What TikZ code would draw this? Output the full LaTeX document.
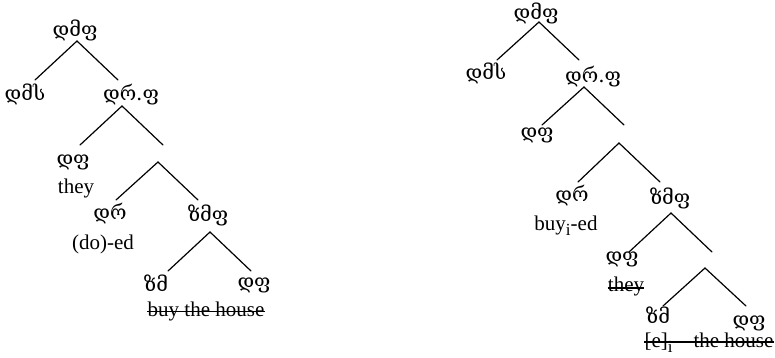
\documentclass[tikz,border=0pt]{standalone}
\usepackage{fontspec}
\setmainfont{Liberation Serif}
\newfontfamily\geo{DejaVu Serif}
\newcommand{\lowsub}[1]{\raisebox{-5pt}{\fontsize{17}{17}\selectfont #1}}
\begin{document}
\begin{tikzpicture}[x=1pt,y=-1pt,
  lab/.style={inner sep=0pt,anchor=center,font=\geo\fontsize{20}{24}\selectfont},
  word/.style={inner sep=0pt,anchor=base,font=\fontsize{21}{25}\selectfont},
  branch/.style={line width=1.2pt,line cap=round},
  strike/.style={line width=1.4pt}]
\useasboundingbox (0,0) rectangle (775,357);
% ---------- left tree ----------
\node[lab] (a0) at (75,30) {დმფ};
\node[lab] (a1) at (25,94) {დმს};
\node[lab] (a2) at (131,95) {დრ.ფ};
\node[lab] (a3) at (73,162) {დფ};
\node[word] (w1) at (76,193) {they};
\node[lab] (a4) at (110,213) {დრ};
\node[word] (w2) at (103,249) {(do)-ed};
\node[lab] (a5) at (208,215) {ზმფ};
\node[lab] (a6) at (156,283) {ზმ};
\node[lab] (a7) at (254,285) {დფ};
\node[word] (w3) at (206,316) {buy the house};
\draw[strike] ([yshift=4.5pt]w3.base west) -- ([yshift=4.5pt]w3.base east);
\coordinate (p0) at (77,41);
\coordinate (p0l) at (35,80);
\coordinate (p0r) at (118,80);
\coordinate (p1) at (122,106);
\coordinate (p1l) at (80,145);
\coordinate (p1r) at (163,145);
\coordinate (p2) at (158,162);
\coordinate (p2l) at (116,200);
\coordinate (p2r) at (198,200);
\coordinate (p3) at (210,232);
\coordinate (p3l) at (168,271);
\coordinate (p3r) at (251,271);
\draw[branch] (p0l) -- (p0) -- (p0r);
\draw[branch] (p1l) -- (p1) -- (p1r);
\draw[branch] (p2l) -- (p2) -- (p2r);
\draw[branch] (p3l) -- (p3) -- (p3r);
% ---------- right tree ----------
\node[lab] (b0) at (536,13) {დმფ};
\node[lab] (b1) at (486,73) {დმს};
\node[lab] (b2) at (593,77) {დრ.ფ};
\node[lab] (b3) at (537,135) {დფ};
\node[lab] (b4) at (572,195) {დრ};
\node[word] (v1) at (566,230) {buy\lowsub{i}-ed};
\node[lab] (b5) at (670,198) {ზმფ};
\node[lab] (b6) at (622,259) {დფ};
\node[word] (v2) at (626,291) {they};
\draw[strike] ([yshift=3pt]v2.base west) -- ([yshift=3pt]v2.base east);
\node[lab] (b7) at (658,315) {ზმ};
\node[lab] (b8) at (749,323) {დფ};
\node[word] (v3) at (709,347) {[e]\lowsub{i}\quad the house};
\draw[strike] ([yshift=5pt]v3.base west) -- ([yshift=5pt]v3.base east);
\coordinate (q0) at (539,22);
\coordinate (q0l) at (497,60);
\coordinate (q0r) at (579,60);
\coordinate (q1) at (584,87);
\coordinate (q1l) at (542,125);
\coordinate (q1r) at (624,125);
\coordinate (q2) at (619,143);
\coordinate (q2l) at (578,182);
\coordinate (q2r) at (660,182);
\coordinate (q3) at (671,213);
\coordinate (q3l) at (629,252);
\coordinate (q3r) at (712,252);
\coordinate (q4) at (705,268);
\coordinate (q4l) at (663,306);
\coordinate (q4r) at (746,306);
\draw[branch] (q0l) -- (q0) -- (q0r);
\draw[branch] (q1l) -- (q1) -- (q1r);
\draw[branch] (q2l) -- (q2) -- (q2r);
\draw[branch] (q3l) -- (q3) -- (q3r);
\draw[branch] (q4l) -- (q4) -- (q4r);
\end{tikzpicture}
\end{document}
